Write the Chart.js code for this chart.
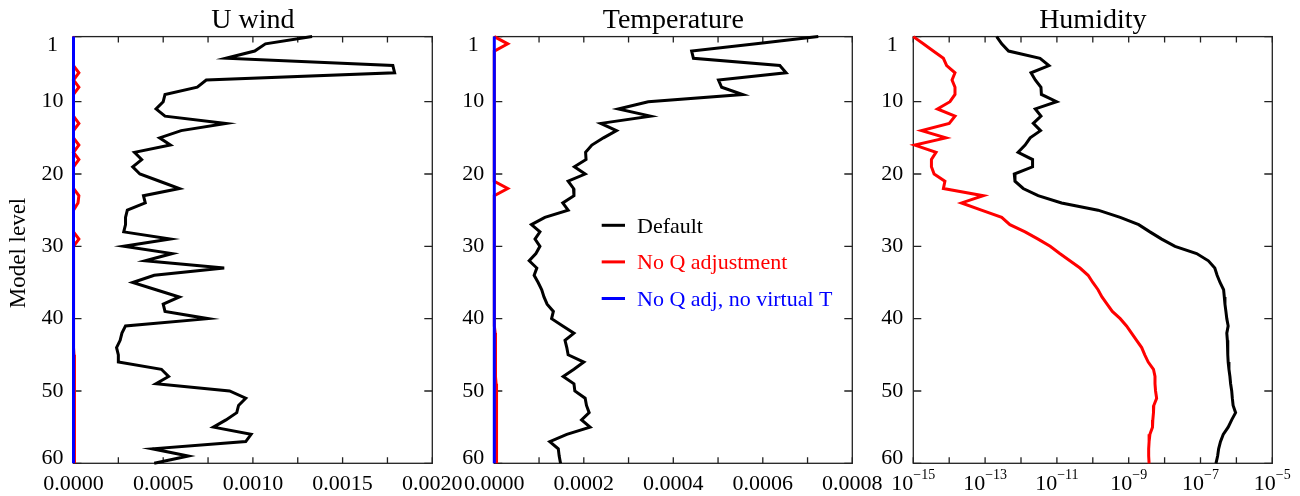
<!DOCTYPE html>
<html><head><meta charset="utf-8">
<script src="https://cdn.jsdelivr.net/npm/chart.js@4/dist/chart.umd.min.js"></script>
<style>
html,body{margin:0;padding:0;background:#fff;}
#wrap{position:relative;width:1300px;height:496px;overflow:hidden;background:#fff;}
#wrap canvas{position:absolute;left:0;top:0;}
</style></head><body>
<div id="wrap">
<canvas id="c1" width="1300" height="496"></canvas>
<canvas id="c2" width="1300" height="496"></canvas>
<canvas id="c3" width="1300" height="496"></canvas>
</div>
<script>
// ---------------- DATA ----------------
const levels = [1,2,3,4,5,6,7,8,9,10,11,12,13,14,15,16,17,18,19,20,21,22,23,24,25,26,27,28,29,30,
  31,32,33,34,35,36,37,38,39,40,41,42,43,44,45,46,47,48,49,50,51,52,53,54,55,56,57,58,59,60];

const seriesNames = ['Default', 'No Q adjustment', 'No Q adj, no virtual T'];
const panelTitles = ['U wind', 'Temperature', 'Humidity'];
const yAxisTitle = 'Model level';

// U wind
const uwindDefault = [0.00133,0.00107,0.00101,0.00085,0.00178,0.00179,0.00074,0.00069,0.00051,0.00050,
  0.00046,0.00051,0.00085,0.00060,0.00048,0.00054,0.00034,0.00038,0.00033,0.00037,
  0.00048,0.00059,0.00039,0.00040,0.00030,0.00029,0.00029,0.00028,0.00054,0.00028,
  0.00055,0.00040,0.00084,0.00045,0.00033,0.00046,0.00059,0.00050,0.00051,0.00075,
  0.00029,0.00027,0.00026,0.00024,0.00025,0.00025,0.00049,0.00053,0.00046,0.00087,
  0.00096,0.00092,0.00091,0.00085,0.00078,0.00099,0.00096,0.00044,0.00064,0.00045];
const uwindNoQ = [0,0,0,0,0,0.00003,0,0.00003,0,0,
  0,0,0.00003,0,0,0.00003,0,0.00003,0,0,
  0,0,0.00003,0.000025,0,0,0,0,0.00003,0,
  0,0,0,0,0,0,0,0,0,0,
  0.000001,0.000001,0.000002,0.000002,0.000003,0.000003,0.000003,0.000004,0.000004,0.000004,
  0.000005,0.000005,0.000005,0.000006,0.000006,0.000006,0.000007,0.000007,0.000007,0.000008];
const uwindNoQNoVirt = [0,0,0,0,0,0,0,0,0,0,0,0,0,0,0,0,0,0,0,0,0,0,0,0,0,0,0,0,0,0,
  0,0,0,0,0,0,0,0,0,0,0,0,0,0,0,0,0,0,0,0,0,0,0,0,0,0,0,0,0,0];

// Temperature
const tempDefault = [0.000724,0.000585,0.000441,0.000445,0.000638,0.000652,0.000501,0.000508,0.000555,0.000344,
  0.000277,0.000349,0.000238,0.000273,0.000244,0.000218,0.000204,0.000205,0.000179,0.000203,
  0.000165,0.000177,0.000178,0.000153,0.000165,0.000113,0.000083,0.000102,0.000091,0.000102,
  0.000093,0.000078,0.000095,0.000089,0.000098,0.000106,0.000111,0.000118,0.000132,0.000128,
  0.000153,0.000178,0.000158,0.000162,0.000165,0.000200,0.000178,0.000154,0.000178,0.000180,
  0.000203,0.000206,0.000212,0.000195,0.000214,0.000162,0.000124,0.000143,0.000145,0.000148];
const tempNoQ = [0,0.00003,0,0,0,0,0,0,0,0,
  0,0,0,0,0,0,0,0,0,0,
  0,0.00003,0,0,0,0,0,0,0,0,
  0,0,0,0,0,0,0,0,0,0.000001,
  0.000001,0.000002,0.000002,0.000002,0.000003,0.000003,0.000003,0.000003,0.000004,0.000004,
  0.000004,0.000004,0.000005,0.000005,0.000005,0.000005,0.000005,0.000006,0.000006,0.000006];
const tempNoQNoVirt = [0,0,0,0,0,0,0,0,0,0,0,0,0,0,0,0,0,0,0,0,0,0,0,0,0,0,0,0,0,0,
  0,0,0,0,0,0,0,0,0,0,0,0,0,0,0,0,0,0,0,0,0,0,0,0,0,0,0,0,0,0];

// Humidity
const humDefault = [2.1e-13,2.9e-13,4.5e-13,3.4e-12,6.0e-12,1.9e-12,2.5e-12,3.6e-12,3.7e-12,9.8e-12,
  2.5e-12,3.6e-12,2.2e-12,3.5e-12,1.8e-12,1.3e-12,8.3e-13,2.1e-12,2.1e-12,6.5e-13,
  6.8e-13,1.15e-12,3.0e-12,1.35e-11,1.4e-10,5.8e-10,1.9e-9,3.9e-9,8.3e-9,1.95e-8,
  7.8e-8,1.66e-7,2.5e-7,2.9e-7,3.5e-7,4.4e-7,4.6e-7,4.8e-7,5.1e-7,5.4e-7,
  5.9e-7,5.4e-7,5.6e-7,5.7e-7,5.8e-7,5.9e-7,6.2e-7,6.6e-7,6.9e-7,7.4e-7,
  7.7e-7,8.1e-7,9.5e-7,7.4e-7,5.9e-7,4.3e-7,3.6e-7,3.2e-7,3.0e-7,2.7e-7];
const humNoQ = [1.0e-15,1.9e-15,3.6e-15,6.9e-15,8.5e-15,1.45e-14,1.2e-14,1.45e-14,1.45e-14,1.05e-14,
  4.7e-15,1.45e-14,1.0e-14,1.7e-15,8.1e-15,1.1e-15,4.3e-15,3.2e-15,3.2e-15,3.8e-15,
  7.6e-15,6.9e-15,8.9e-14,2.2e-14,7.9e-14,2.9e-13,4.9e-13,1.3e-12,3.0e-12,6.5e-12,
  1.2e-11,2.3e-11,4.4e-11,7.4e-11,1.0e-10,1.4e-10,1.8e-10,2.5e-10,3.5e-10,5.8e-10,
  8.7e-10,1.2e-9,1.66e-9,2.3e-9,2.8e-9,3.5e-9,4.9e-9,5.4e-9,5.4e-9,5.6e-9,
  6.0e-9,5.0e-9,4.9e-9,4.7e-9,4.6e-9,3.9e-9,3.7e-9,3.6e-9,3.6e-9,3.7e-9];
const humNoQNoVirt = [null,null,null,null,null,null,null,null,null,null,null,null,null,null,null,
  null,null,null,null,null,null,null,null,null,null,null,null,null,null,null,
  null,null,null,null,null,null,null,null,null,null,null,null,null,null,null,
  null,null,null,null,null,null,null,null,null,null,null,null,null,null,null];

// Tick values / labels
const levelTicks = [1,10,20,30,40,50,60];
const levelTickLabels = ['1','10','20','30','40','50','60'];
const uwindTicks = [0,0.00025,0.0005,0.00075,0.001,0.00125,0.0015,0.00175,0.002];
const uwindLabelValues = [0,0.0005,0.001,0.0015,0.002];
const uwindLabels = ['0.0000','0.0005','0.0010','0.0015','0.0020'];
const tempTicks = [0,0.0001,0.0002,0.0003,0.0004,0.0005,0.0006,0.0007,0.0008];
const tempLabelValues = [0,0.0002,0.0004,0.0006,0.0008];
const tempLabels = ['0.0000','0.0002','0.0004','0.0006','0.0008'];
const humTicks = [1e-15,1e-14,1e-13,1e-12,1e-11,1e-10,1e-9,1e-8,1e-7,1e-6,1e-5];
const humLabelValues = [1e-15,1e-13,1e-11,1e-9,1e-7,1e-5];
const humLabelExponents = ['\u221215','\u221213','\u221211','\u22129','\u22127','\u22125'];

// ---------------- STYLE / DRAWING ----------------
const FONT = "'Liberation Serif','DejaVu Serif','Times New Roman',serif";
const COLORS = ['#000000', '#ff0000', '#0000ff'];

function toPoints(vals) { return levels.map((l, i) => ({x: vals[i], y: l})); }

const decor = {
  id: 'decor',
  beforeDatasetsDraw(chart, args, o) {
    const {ctx, chartArea: a} = chart;
    const x = chart.scales.x, y = chart.scales.y;
    ctx.save();
    ctx.strokeStyle = '#222';
    ctx.lineWidth = 1.3;
    ctx.strokeRect(a.left, a.top, a.right - a.left, a.bottom - a.top);
    ctx.beginPath();
    o.xTicks.forEach(v => {
      const px = x.getPixelForValue(v);
      ctx.moveTo(px, a.top); ctx.lineTo(px, a.top + 6);
      ctx.moveTo(px, a.bottom); ctx.lineTo(px, a.bottom - 6);
    });
    levelTicks.forEach(v => {
      const py = y.getPixelForValue(v);
      ctx.moveTo(a.left, py); ctx.lineTo(a.left + 8, py);
      ctx.moveTo(a.right, py); ctx.lineTo(a.right - 8, py);
    });
    ctx.stroke();
    ctx.restore();
  },
  afterDatasetsDraw(chart, args, o) {
    const {ctx, chartArea: a} = chart;
    const x = chart.scales.x, y = chart.scales.y;
    ctx.save();
    ctx.fillStyle = '#000';
    // y tick labels
    ctx.font = '22px ' + FONT;
    ctx.textAlign = 'center';
    ctx.textBaseline = 'middle';
    levelTicks.forEach((v, i) => {
      let py = y.getPixelForValue(v);
      py = Math.min(Math.max(py, a.top + 9), a.bottom - 5.5);
      ctx.fillText(levelTickLabels[i], a.left - 21, py);
    });
    // x tick labels
    ctx.textBaseline = 'alphabetic';
    if (o.logLabels) {
      o.labelValues.forEach((v, i) => {
        const px = x.getPixelForValue(v);
        ctx.font = '22px ' + FONT;
        const w1 = ctx.measureText('10').width;
        ctx.font = '14px ' + FONT;
        const w2 = ctx.measureText(o.labels[i]).width;
        const x0 = px - (w1 + w2) / 2;
        ctx.textAlign = 'left';
        ctx.font = '22px ' + FONT;
        ctx.fillText('10', x0, 490);
        ctx.font = '14px ' + FONT;
        ctx.fillText(o.labels[i], x0 + w1, 479);
      });
    } else {
      ctx.textAlign = 'center';
      ctx.font = '22px ' + FONT;
      o.labelValues.forEach((v, i) => {
        ctx.fillText(o.labels[i], x.getPixelForValue(v), 490);
      });
    }
    // y axis title
    if (o.yTitle) {
      ctx.save();
      ctx.translate(18.5, 253);
      ctx.rotate(-Math.PI / 2);
      ctx.textAlign = 'center';
      ctx.textBaseline = 'middle';
      ctx.font = '23px ' + FONT;
      ctx.fillText(o.yTitle, 0, 0);
      ctx.restore();
    }
    // legend
    if (o.legend) {
      const ds = chart.data.datasets;
      ds.forEach((d, i) => {
        const ly = 225.3 + i * 36.6;
        ctx.strokeStyle = d.borderColor;
        ctx.lineWidth = 3;
        ctx.beginPath();
        ctx.moveTo(601.7, ly); ctx.lineTo(625, ly);
        ctx.stroke();
        ctx.fillStyle = d.borderColor;
        ctx.font = '22px ' + FONT;
        ctx.textAlign = 'left';
        ctx.textBaseline = 'alphabetic';
        ctx.fillText(d.label, 637, ly + 7.3);
      });
    }
    ctx.restore();
  }
};

function makeChart(id, title, seriesVals, xScale, box, decorOpts) {
  const datasets = seriesVals.map((vals, i) => ({
    label: seriesNames[i],
    data: toPoints(vals),
    borderColor: COLORS[i],
    backgroundColor: COLORS[i],
    borderWidth: 3,
    pointRadius: 0,
    showLine: true,
    fill: false,
    tension: 0,
    clip: false,
    spanGaps: false,
    order: 2 - i
  }));
  return new Chart(document.getElementById(id), {
    type: 'scatter',
    data: {datasets},
    options: {
      responsive: false,
      animation: false,
      devicePixelRatio: 1,
      events: [],
      layout: {padding: {left: box.left, right: 1300 - box.right, top: 0, bottom: 496 - box.bottom}},
      scales: {
        x: Object.assign({display: false}, xScale),
        y: {type: 'linear', min: 1, max: 60, reverse: true, display: false}
      },
      plugins: {
        legend: {display: false},
        tooltip: {enabled: false},
        title: {
          display: true, text: title, fullSize: false, color: '#000',
          font: {family: FONT, size: 28, weight: 'normal', lineHeight: 1},
          padding: {top: 6.5, bottom: 2.1}
        },
        decor: decorOpts
      }
    },
    plugins: [decor]
  });
}

makeChart('c1', panelTitles[0], [uwindDefault, uwindNoQ, uwindNoQNoVirt],
  {type: 'linear', min: 0, max: 0.002},
  {left: 73.5, right: 432.3, bottom: 463.3},
  {xTicks: uwindTicks, labelValues: uwindLabelValues, labels: uwindLabels, yTitle: yAxisTitle});

makeChart('c2', panelTitles[1], [tempDefault, tempNoQ, tempNoQNoVirt],
  {type: 'linear', min: 0, max: 0.0008},
  {left: 494.3, right: 852.3, bottom: 463.3},
  {xTicks: tempTicks, labelValues: tempLabelValues, labels: tempLabels, legend: true});

makeChart('c3', panelTitles[2], [humDefault, humNoQ, humNoQNoVirt],
  {type: 'logarithmic', min: 1e-15, max: 1e-5},
  {left: 913.3, right: 1272.3, bottom: 463.3},
  {xTicks: humTicks, labelValues: humLabelValues, labels: humLabelExponents, logLabels: true});
</script>
</body></html>
